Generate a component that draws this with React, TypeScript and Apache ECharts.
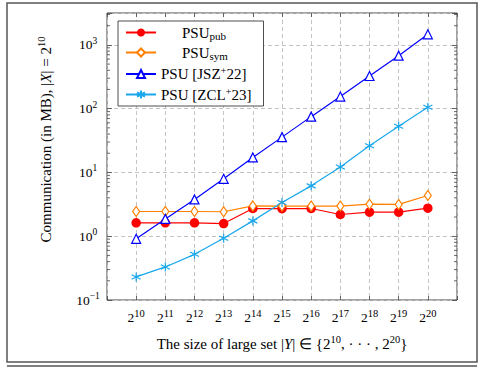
import React, { useEffect, useRef } from "react";
import * as echarts from "echarts";

// x positions are exponents: |Y| = 2^k
const exponents = [10, 11, 12, 13, 14, 15, 16, 17, 18, 19, 20];
const psuPub = [1.62, 1.62, 1.62, 1.58, 2.72, 2.7, 2.72, 2.19, 2.38, 2.38, 2.75];
const psuSym = [2.44, 2.44, 2.44, 2.42, 2.99, 2.97, 2.97, 2.97, 3.18, 3.15, 4.35];
const jsz22 = [0.91, 1.87, 3.77, 7.94, 17.2, 35.8, 75, 155, 325, 678, 1466];
const zcl23 = [0.23, 0.33, 0.52, 0.93, 1.74, 3.38, 6.16, 12.2, 26.2, 53, 105];
const seriesNames = ["PSUpub", "PSUsym", "PSU [JSZ+22]", "PSU [ZCL+23]"];
const legendTexts = [
  "{pad|}{a|PSU}{sub|pub}",
  "{pad|}{a|PSU}{sub|sym}",
  "{a|PSU [JSZ}{sup|+}{a|22]}",
  "{a|PSU [ZCL}{sup|+}{a|23]}",
];
const minorMultipliers = [2, 3, 4, 5, 6, 7, 8, 9];
const minorDecades = [0.1, 1, 10, 100, 1000];
const Y_MIN = 0.1;
const Y_MAX = 3162;
const X_MIN = 9;
const X_MAX = 21;

const FONT = "Liberation Serif";
const SUPER_MINUS = "\u2212";

export default function App() {
  const ref = useRef<HTMLDivElement>(null);
  useEffect(() => {
    document.body.style.margin = "0";
    const chart = echarts.init(ref.current!, undefined, { renderer: "svg" });
    const minorTicks: number[][] = [];
    minorDecades.forEach((d) =>
      minorMultipliers.forEach((m) => {
        const v = d * m;
        if (v < Y_MAX) minorTicks.push([X_MIN, v]);
      })
    );
    const lw = 1.2;
    const asterisk =
      "path://M0,-5L0,5M-4.33,-2.5L4.33,2.5M-4.33,2.5L4.33,-2.5";
    const richBase = {
      a: { fontFamily: FONT, fontSize: 15, color: "#000" },
      sub: { fontFamily: FONT, fontSize: 11, color: "#000", padding: [6, 0, 0, 0] },
      sup: { fontFamily: FONT, fontSize: 10.5, color: "#000", padding: [0, 0, 7, 0] },
      pad: { width: 21 },
    };
    const tickStyle = { color: "#444", width: 0.8 };
    chart.setOption({
      animation: false,
      textStyle: { fontFamily: FONT },
      graphic: [
        {
          type: "rect",
          shape: { x: 7, y: 3, width: 470, height: 359 },
          style: { fill: "none", stroke: "#555", lineWidth: 1.5 },
          silent: true,
        },
        {
          type: "line",
          shape: { x1: 7, y1: 366, x2: 477, y2: 366 },
          style: { stroke: "#555", lineWidth: 1.5 },
          silent: true,
        },
      ],
      grid: {
        left: 107,
        right: 29,
        top: 13,
        bottom: 68,
        show: true,
        borderColor: "#444",
        borderWidth: 1,
        backgroundColor: "transparent",
      },
      legend: {
        data: seriesNames,
        orient: "vertical",
        left: 118,
        top: 21,
        backgroundColor: "#fff",
        borderColor: "#222",
        borderWidth: 0.8,
        padding: [4, 12, 4, 7],
        itemWidth: 30,
        itemHeight: 10,
        itemGap: 4,
        formatter: (name: string) => legendTexts[seriesNames.indexOf(name)],
        textStyle: { fontFamily: FONT, fontSize: 15, color: "#000", rich: richBase },
      },
      xAxis: [
        {
          type: "value",
          min: X_MIN,
          max: X_MAX,
          interval: 1,
          axisLine: { show: false },
          axisTick: { show: true, inside: true, length: 4, lineStyle: tickStyle },
          splitLine: { show: true, lineStyle: { color: "#c4c4c4", type: [4, 3], width: 1 } },
          axisLabel: {
            margin: 8,
            formatter: (v: number) =>
              v >= 10 && v <= 20 ? `{b|2}{s|${v}}` : "",
            rich: {
              b: { fontFamily: FONT, fontSize: 13.5, color: "#000" },
              s: { fontFamily: FONT, fontSize: 10.5, color: "#000", padding: [0, 0, 8, 0] },
            },
          },
          name: "The size of large set |{i|Y}| \u2208 {2{s|10}, \u00b7 \u00b7 \u00b7 , 2{s|20}}",
          nameLocation: "middle",
          nameGap: 34,
          nameTextStyle: {
            fontFamily: FONT,
            fontSize: 15,
            color: "#000",
            rich: {
              i: { fontFamily: FONT, fontSize: 15, fontStyle: "italic", color: "#000" },
              s: { fontFamily: FONT, fontSize: 10.5, color: "#000", padding: [0, 0, 8, 0] },
            },
          },
        },
        {
          type: "value",
          position: "top",
          min: X_MIN,
          max: X_MAX,
          interval: 1,
          axisLine: { show: false },
          axisTick: { show: true, inside: true, length: 4, lineStyle: tickStyle },
          splitLine: { show: false },
          axisLabel: { show: false },
        },
      ],
      yAxis: [
        {
          type: "log",
          logBase: 10,
          min: Y_MIN,
          max: Y_MAX,
          axisLine: { show: false },
          axisTick: { show: true, inside: true, length: 5, lineStyle: tickStyle },
          splitLine: { show: true, lineStyle: { color: "#c4c4c4", type: [4, 3], width: 1 } },
          axisLabel: {
            align: "center",
            margin: 19,
            formatter: (v: number) => {
              const e = Math.log10(v);
              const r = Math.round(e);
              if (Math.abs(e - r) > 1e-6) return "";
              const es = r < 0 ? SUPER_MINUS + Math.abs(r) : String(r);
              return `{b|10}{s|${es}}`;
            },
            rich: {
              b: { fontFamily: FONT, fontSize: 13.5, color: "#000" },
              s: { fontFamily: FONT, fontSize: 9.5, color: "#000", padding: [0, 0, 8, 0] },
            },
          },
          name: "Communication (in MB), |{i|X}| = 2{s|10}",
          nameLocation: "middle",
          nameGap: 52,
          nameTextStyle: {
            fontFamily: FONT,
            fontSize: 15,
            color: "#000",
            padding: [0, 0, 0, 34],
            rich: {
              i: { fontFamily: FONT, fontSize: 15, fontStyle: "italic", color: "#000" },
              s: { fontFamily: FONT, fontSize: 10.5, color: "#000", padding: [0, 0, 8, 0] },
            },
          },
        },
        {
          type: "log",
          logBase: 10,
          position: "right",
          min: Y_MIN,
          max: Y_MAX,
          axisLine: { show: false },
          axisTick: { show: true, inside: true, length: 5, lineStyle: tickStyle },
          splitLine: { show: false },
          axisLabel: { show: false },
        },
      ],
      series: [
        {
          type: "custom",
          name: "minor",
          silent: true,
          xAxisIndex: 0,
          yAxisIndex: 0,
          data: minorTicks,
          renderItem: (params: any, api: any) => {
            const cs = params.coordSys;
            const y = api.coord([X_MIN, api.value(1)])[1];
            const st = { stroke: "#444", lineWidth: 0.8 };
            return {
              type: "group",
              children: [
                { type: "line", shape: { x1: cs.x, y1: y, x2: cs.x + 3, y2: y }, style: st },
                {
                  type: "line",
                  shape: { x1: cs.x + cs.width, y1: y, x2: cs.x + cs.width - 3, y2: y },
                  style: st,
                },
              ],
            };
          },
        },
        {
          type: "line",
          name: seriesNames[0],
          data: exponents.map((e, i) => [e, psuPub[i]]),
          symbol: "circle",
          symbolSize: 9.5,
          lineStyle: { color: "#ff0000", width: lw },
          itemStyle: { color: "#ff0000" },
        },
        {
          type: "line",
          name: seriesNames[1],
          data: exponents.map((e, i) => [e, psuSym[i]]),
          symbol: "diamond",
          symbolSize: [7, 10],
          lineStyle: { color: "#ff8000", width: lw },
          itemStyle: { color: "#fff", borderColor: "#ff8000", borderWidth: 1.2 },
        },
        {
          type: "line",
          name: seriesNames[2],
          data: exponents.map((e, i) => [e, jsz22[i]]),
          symbol: "triangle",
          symbolSize: 9,
          lineStyle: { color: "#0000ff", width: lw },
          itemStyle: { color: "#fff", borderColor: "#0000ff", borderWidth: 1.2 },
        },
        {
          type: "line",
          name: seriesNames[3],
          data: exponents.map((e, i) => [e, zcl23[i]]),
          symbol: asterisk,
          symbolSize: 9,
          lineStyle: { color: "#1aa7ec", width: lw },
          itemStyle: { color: "none", borderColor: "#1aa7ec", borderWidth: 1.2 },
        },
      ],
    });
    return () => chart.dispose();
  }, []);
  return <div ref={ref} style={{ width: 486, height: 368 }} />;
}
